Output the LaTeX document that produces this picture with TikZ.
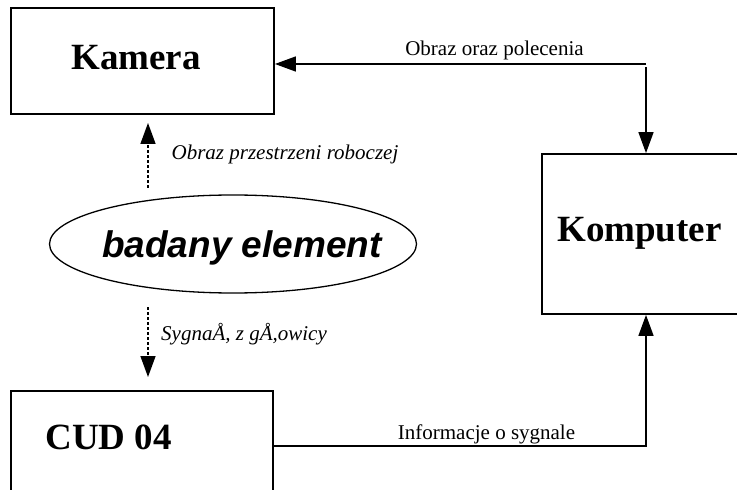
\documentclass[tikz,border=0pt]{standalone}
\usepackage{fontspec}
\setmainfont{Liberation Serif}
\newfontfamily\arialfont{Liberation Sans}
\usetikzlibrary{arrows.meta,shapes.geometric}
\begin{document}
\begin{tikzpicture}[x=1bp,y=-1bp,
  box/.style={draw, line width=1.8bp, inner sep=0pt},
  boxtext/.style={font=\fontsize{37bp}{40bp}\selectfont\bfseries, anchor=base, inner sep=0pt},
  lbl/.style={font=\fontsize{21bp}{24bp}\selectfont, anchor=base, inner sep=0pt},
  ilbl/.style={lbl, font=\fontsize{21bp}{24bp}\selectfont\itshape},
  arr/.style={line width=1.5bp, -{Triangle[length=21bp,width=15bp]}},
  darr/.style={arr, dash pattern=on 3bp off 2bp},
]
\useasboundingbox (0,0) rectangle (737,490);
\clip (0,0) rectangle (737,490);

% boxes
\node[box, minimum width=263bp, minimum height=106bp] (kamera) at (142.5,61) {};
\node[box, minimum width=196bp, minimum height=160bp] (komputer) at (640,234) {};
\node[box, minimum width=262bp, minimum height=109bp] (cud) at (142,445.5) {};
\node[draw, ellipse, line width=1.3bp, minimum width=367bp, minimum height=98bp, inner sep=0pt] (elem) at (233,244) {};

% texts
\node[boxtext] (kameratxt) at (136,70) {Kamera};
\node[boxtext] (komputertxt) at (639.5,242) {Komputer};
\node[boxtext] (cudtxt) at (108.5,449) {CUD 04};
\node[font=\fontsize{37bp}{40bp}\selectfont\arialfont\bfseries\itshape, anchor=base, inner sep=0pt] (elemtxt) at (242,258) {badany element};

% connectors
\coordinate (c1) at (646,64);
\coordinate (c2) at (646,67);
\coordinate (c3) at (646,446);
\draw[arr] (c1) -- (c1 -| kamera.east);
\draw[arr] (c2) -- (c2 |- komputer.north);
\draw[arr] (cud.east |- c3) -- (c3) -- (c3 |- komputer.south);

\coordinate (d1) at (148,188);
\coordinate (d2) at (148,123);
\coordinate (d3) at (148,307);
\coordinate (d4) at (148,377);
\draw[darr] (d1) -- (d2);
\draw[darr] (d3) -- (d4);

% labels
\node[lbl] (l1) at (494.5,56) {Obraz oraz polecenia};
\node[ilbl] (l2) at (285,160) {Obraz przestrzeni roboczej};
\node[ilbl, anchor=base west] (l3) at (161,340) {SygnaÅ, z gÅ,owicy};
\node[lbl] (l4) at (486.5,439) {Informacje o sygnale};
\end{tikzpicture}
\end{document}
